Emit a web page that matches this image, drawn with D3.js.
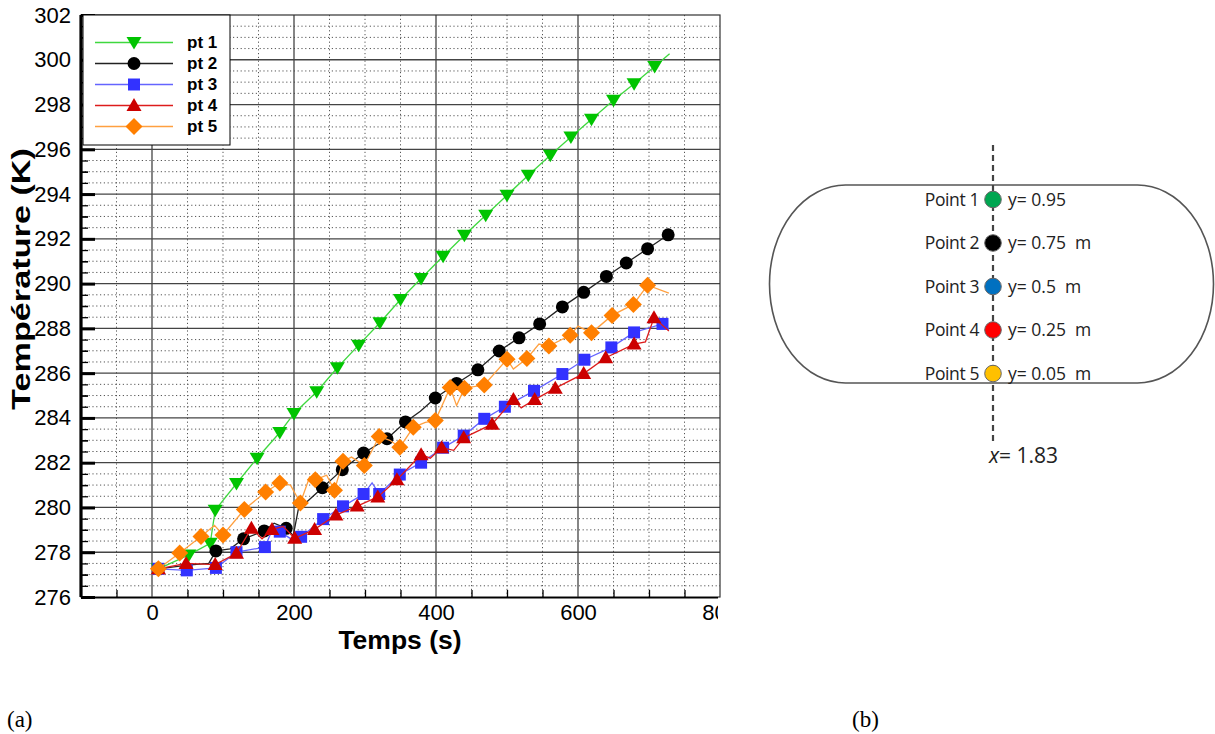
<!DOCTYPE html>
<html><head><meta charset="utf-8">
<script src="https://cdn.jsdelivr.net/npm/d3@7"></script>
<style>
html,body{margin:0;padding:0;background:#fff;}
svg{display:block;font-family:"Liberation Sans",Arial,sans-serif;}
</style></head>
<body>
<svg id="c" width="1215" height="734"></svg>
<script>
// ---------- data ----------
const timeTicks = [0, 200, 400, 600, 800];
const tempTicks = [276, 278, 280, 282, 284, 286, 288, 290, 292, 294, 296, 298, 300, 302];
const seriesNames = ["pt 1", "pt 2", "pt 3", "pt 4", "pt 5"];
// [time (s), temperature (K), has marker]
const pt1 = [[9,277.26,1],[52,277.88,1],[82,278.4,1],[89,279.88,1],[119,281.07,1],[148,282.2,1],[180,283.35,1],[200,284.2,1],[232,285.17,1],[261,286.24,1],[291,287.25,1],[321,288.25,1],[350,289.29,1],[379,290.23,1],[410,291.22,1],[440,292.16,1],[470,293.05,1],[500,293.95,1],[530,294.84,1],[561,295.73,1],[590,296.55,1],[619,297.34,1],[650,298.19,1],[679,298.93,1],[708,299.7,1],[729,300.27,0]];
const pt2 = [[9,277.26,1],[50,277.42,0],[80,277.5,0],[90,278.06,1],[110,278.15,0],[129,278.6,1],[158,278.95,1],[172,279.3,0],[189,279.07,1],[199,278.75,0],[206,279.9,0],[240,280.88,1],[268,281.69,1],[298,282.43,1],[331,283.07,1],[357,283.82,1],[378,284.3,0],[399,284.89,1],[429,285.54,1],[459,286.15,1],[489,286.99,1],[517,287.58,1],[546,288.2,1],[578,288.96,1],[608,289.61,1],[640,290.32,1],[668,290.92,1],[698,291.56,1],[727,292.18,1]];
const pt3 = [[9,277.26,1],[49,277.19,1],[90,277.3,1],[119,278.0,1],[159,278.23,1],[170,279.05,0],[180,278.92,1],[198,278.55,0],[210,278.69,1],[241,279.48,1],[269,280.05,1],[298,280.6,1],[310,281.1,0],[320,280.6,1],[349,281.47,1],[379,282.0,1],[410,282.67,1],[439,283.21,1],[468,283.96,1],[497,284.5,1],[538,285.21,1],[578,285.96,1],[609,286.6,1],[647,287.15,1],[679,287.82,1],[719,288.2,1],[728,287.95,0]];
const pt4 = [[9,277.26,1],[48,277.5,1],[89,277.45,1],[119,277.95,1],[140,279.07,1],[155,278.6,0],[169,279.02,1],[185,279.15,0],[201,278.62,1],[229,279.02,1],[259,279.66,1],[289,280.06,1],[318,280.47,1],[345,281.24,1],[379,282.36,1],[392,282.2,0],[408,282.67,1],[425,282.55,0],[439,283.11,1],[479,283.72,1],[509,284.82,1],[520,284.45,0],[539,284.82,1],[568,285.33,1],[608,285.98,1],[639,286.69,1],[679,287.3,1],[695,287.4,0],[707,288.47,1],[728,287.88,0]];
const pt5 = [[9,277.26,1],[39,277.97,1],[69,278.7,1],[88,279.2,0],[100,278.77,1],[130,279.91,1],[160,280.69,1],[180,281.09,1],[195,281.0,0],[209,280.2,1],[222,281.36,0],[230,281.24,1],[246,281.44,0],[257,280.77,1],[269,282.07,1],[281,282.25,0],[299,281.88,1],[320,283.17,1],[335,283.0,0],[349,282.69,1],[368,283.58,1],[385,283.8,0],[399,283.88,1],[420,285.36,1],[429,284.55,0],[440,285.33,1],[468,285.47,1],[500,286.62,1],[509,286.18,0],[528,286.65,1],[545,287.3,0],[559,287.21,1],[589,287.69,1],[600,288.1,0],[619,287.8,1],[648,288.58,1],[678,289.07,1],[698,289.93,1],[728,289.58,0]];
const seriesData = [pt1, pt2, pt3, pt4, pt5];
const probeLabels = ["Point 1", "Point 2", "Point 3", "Point 4", "Point 5"];
const probeY = ["y= 0.95", "y= 0.75  m", "y= 0.5  m", "y= 0.25  m", "y= 0.05  m"];

// ---------- styles ----------
const lineColors = ["#3fd83f", "#222222", "#6464ff", "#dd1c1c", "#ffa040"];
const markColors = ["#00c400", "#000000", "#3232ff", "#cc0000", "#ff7f00"];
const shapes = ["tdown", "circle", "square", "tup", "diamond"];
const probeColors = ["#00a651", "#000000", "#0070c0", "#ff0000", "#ffc000"];

const svg = d3.select("#c");
const x = d3.scaleLinear().domain([-100, 800]).range([81, 720]);
const y = d3.scaleLinear().domain([276, 302]).range([597, 15]);

svg.append("defs").append("clipPath").attr("id", "xclip")
  .append("rect").attr("x", 0).attr("y", 0).attr("width", 718).attr("height", 734);

function shapePath(s) {
  switch (s) {
    case "tdown": return "M-7.5,-5.5L7.5,-5.5L0,7Z";
    case "tup": return "M0,-7.5L7.5,5.5L-7.5,5.5Z";
    case "square": return "M-6,-6H6V6H-6Z";
    case "diamond": return "M0,-8.5L8.5,0L0,8.5L-8.5,0Z";
    default: return d3.symbol(d3.symbolCircle, Math.PI * 6.5 * 6.5)();
  }
}

const g = svg.append("g");

// minor grid
const minorX = d3.range(-50, 800, 50).filter(v => v % 200 !== 0);
const minorY = d3.range(276.5, 302, 0.5).filter(v => v % 2 !== 0);
g.selectAll(".mgx").data(minorX).join("line")
  .attr("x1", d => x(d)).attr("x2", d => x(d)).attr("y1", y(302)).attr("y2", y(276))
  .attr("stroke", "#555").attr("stroke-width", 1).attr("stroke-dasharray", "1.2,2.6");
g.selectAll(".mgy").data(minorY).join("line")
  .attr("x1", x(-100)).attr("x2", x(800)).attr("y1", d => y(d)).attr("y2", d => y(d))
  .attr("stroke", "#555").attr("stroke-width", 1).attr("stroke-dasharray", "1.2,2.6");
// major grid
g.selectAll(".Mgx").data(timeTicks.filter(v => v < 800)).join("line")
  .attr("x1", d => x(d)).attr("x2", d => x(d)).attr("y1", y(302)).attr("y2", y(276))
  .attr("stroke", "#444").attr("stroke-width", 1.3);
g.selectAll(".Mgy").data(tempTicks.filter(v => v > 276 && v < 302)).join("line")
  .attr("x1", x(-100)).attr("x2", x(800)).attr("y1", d => y(d)).attr("y2", d => y(d))
  .attr("stroke", "#444").attr("stroke-width", 1.3);
// frame (top/right)
g.append("rect").attr("x", x(-100)).attr("y", y(302)).attr("width", x(800) - x(-100)).attr("height", y(276) - y(302))
  .attr("fill", "none").attr("stroke", "#333").attr("stroke-width", 1.2);

// series
const line = d3.line().x(d => x(d[0])).y(d => y(d[1]));
seriesData.forEach((s, i) => {
  g.append("path").datum(s).attr("d", line).attr("fill", "none")
    .attr("stroke", lineColors[i]).attr("stroke-width", 1.3);
  g.selectAll(".m" + i).data(s.filter(d => d[2])).join("path")
    .attr("transform", d => `translate(${x(d[0])},${y(d[1])})`)
    .attr("d", shapePath(shapes[i])).attr("fill", markColors[i]);
});

// axes
const yAxis = g.append("g").attr("transform", `translate(${x(-100)},0)`)
  .call(d3.axisLeft(y).tickValues(tempTicks).tickSize(-14).tickPadding(10).tickFormat(d3.format("d")));
const yMinor = g.append("g").attr("transform", `translate(${x(-100)},0)`)
  .call(d3.axisLeft(y).tickValues(minorY.concat(tempTicks.map(v => v + 1).filter(v => v < 302))).tickSize(-7).tickFormat(""));
const xAxis = g.append("g").attr("transform", `translate(0,${y(276)})`).attr("clip-path", "url(#xclip)")
  .call(d3.axisBottom(x).tickValues(timeTicks).tickSize(-12).tickPadding(7).tickFormat(d3.format("d")));
const xMinor = g.append("g").attr("transform", `translate(0,${y(276)})`)
  .call(d3.axisBottom(x).tickValues(d3.range(-50, 800, 50).filter(v => v % 200 !== 0)).tickSize(-7).tickFormat(""));
[yAxis, xAxis].forEach(a => {
  a.select(".domain").attr("stroke", "#000").attr("stroke-width", 3.2);
  a.selectAll(".tick line").attr("stroke", "#000").attr("stroke-width", 3);
  a.selectAll(".tick text").attr("font-size", 22).attr("font-family", "Liberation Sans, Arial, sans-serif").attr("fill", "#000");
});
[yMinor, xMinor].forEach(a => {
  a.select(".domain").remove();
  a.selectAll(".tick line").attr("stroke", "#000").attr("stroke-width", 1.3);
});
yAxis.select(".domain").attr("d", `M0,${y(302)}V${y(276)}`);
xAxis.select(".domain").attr("d", `M${x(-100)},0H${x(800)}`);
xAxis.raise(); yAxis.raise();

// axis titles
svg.append("text").attr("x", 400).attr("y", 649).attr("text-anchor", "middle")
  .attr("font-size", 26.5).attr("font-weight", "bold").text("Temps (s)");
svg.append("text").attr("transform", "translate(30,279) rotate(-90)").attr("text-anchor", "middle")
  .attr("font-size", 26.5).attr("font-weight", "bold")
  .attr("textLength", 262).attr("lengthAdjust", "spacingAndGlyphs").text("Température (K)");

// legend
const lg = svg.append("g");
lg.append("rect").attr("x", 83).attr("y", 15).attr("width", 147).attr("height", 130)
  .attr("fill", "#fff").attr("stroke", "#000").attr("stroke-width", 1);
const legY = d3.scalePoint().domain(seriesNames).range([42.5, 126.5]);
seriesNames.forEach((n, i) => {
  const yy = legY(n);
  lg.append("line").attr("x1", 95).attr("x2", 173).attr("y1", yy).attr("y2", yy)
    .attr("stroke", lineColors[i]).attr("stroke-width", 1.3);
  lg.append("path").attr("transform", `translate(134,${yy})`).attr("d", shapePath(shapes[i])).attr("fill", markColors[i]);
  lg.append("text").attr("x", 187).attr("y", yy).attr("dy", "0.35em").attr("font-size", 17)
    .attr("font-weight", "bold").text(n);
});

// ---------- panel (b) ----------
const b = svg.append("g");
b.append("rect").attr("x", 769.5).attr("y", 185).attr("width", 444).attr("height", 198)
  .attr("rx", 76).attr("ry", 99).attr("fill", "none").attr("stroke", "#555").attr("stroke-width", 1.6);
b.append("line").attr("x1", 993).attr("x2", 993).attr("y1", 145).attr("y2", 443)
  .attr("stroke", "#444").attr("stroke-width", 2.2).attr("stroke-dasharray", "6,4");
const probeRows = d3.scalePoint().domain(probeLabels).range([199.5, 373.5]);
probeLabels.forEach((p, i) => {
  const yy = probeRows(p);
  b.append("circle").attr("cx", 993).attr("cy", yy).attr("r", 8.3)
    .attr("fill", probeColors[i]).attr("stroke", "#666").attr("stroke-width", 1);
  b.append("text").attr("x", 979).attr("y", yy + 6).attr("text-anchor", "end")
    .attr("font-family", "Open Sans, Liberation Sans, sans-serif").attr("font-size", 17.5).attr("fill", "#222")
    .attr("letter-spacing", "-0.4").text(p);
  b.append("text").attr("x", 1008).attr("y", yy + 6)
    .attr("font-family", "Open Sans, Liberation Sans, sans-serif").attr("font-size", 17.5).attr("fill", "#222")
    .style("white-space", "pre").text(probeY[i]);
});
const xl = b.append("text").attr("x", 989).attr("y", 463).attr("font-family", "Open Sans, Liberation Sans, sans-serif")
  .attr("font-size", 21).attr("fill", "#222");
xl.append("tspan").attr("font-style", "italic").text("x");
xl.append("tspan").text("= 1.83");

// panel letters
svg.append("text").attr("x", 7).attr("y", 727).attr("font-family", "Liberation Serif, Times New Roman, serif")
  .attr("font-size", 23).text("(a)");
svg.append("text").attr("x", 852).attr("y", 727).attr("font-family", "Liberation Serif, Times New Roman, serif")
  .attr("font-size", 23).text("(b)");
</script>
</body></html>
